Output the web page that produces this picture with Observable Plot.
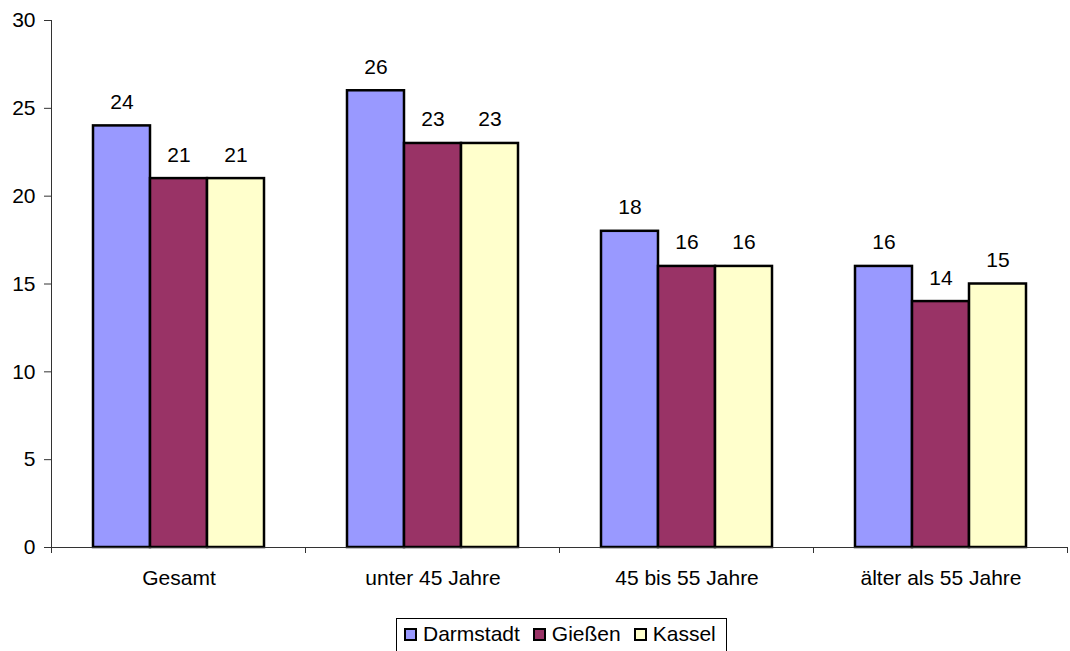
<!DOCTYPE html>
<html><head><meta charset="utf-8">
<script src="https://cdn.jsdelivr.net/npm/d3@7"></script>
<script src="https://cdn.jsdelivr.net/npm/@observablehq/plot@0.6"></script>
<style>
body{margin:0;background:#fff;font-family:"Liberation Sans",Arial,sans-serif;}
#wrap{position:relative;width:1070px;height:651px;overflow:hidden;}
#legend{position:absolute;left:396px;top:618px;width:331px;height:40px;border:1px solid #000;box-sizing:border-box;display:flex;align-items:flex-start;padding:4px 0 0 7px;font-size:21px;line-height:22px;color:#000;}
.item{display:flex;align-items:center;margin-right:13px;}
.sw{width:9px;height:9px;border:2px solid #000;margin-right:6px;}
</style></head>
<body><div id="wrap"><div id="chart"></div><div id="legend"></div></div>
<script>
const categories = ["Gesamt", "unter 45 Jahre", "45 bis 55 Jahre", "älter als 55 Jahre"];
const cities = ["Darmstadt", "Gießen", "Kassel"];
const darmstadt = [24, 26, 18, 16];
const giessen = [21, 23, 16, 14];
const kassel = [21, 23, 16, 15];
const colors = ["#9999FF", "#993366", "#FFFFCC"];
const yTicks = [0, 5, 10, 15, 20, 25, 30];

const series = [darmstadt, giessen, kassel];
const data = categories.flatMap((c, i) => series.map((s, k) => ({category: c, city: cities[k], value: s[i]})));

const W = 1070, H = 600, ML = 51, MR = 2, MT = 20, MB = 53;
const FS = 21;
const pInner = 0.3274;
const step = (W - ML - MR) / categories.length;
const bar = step * (1 - pInner) / 3;

const marks = [];
cities.forEach((city, k) => {
  const sub = data.filter(d => d.city === city);
  marks.push(Plot.barY(sub, {x: "category", y: "value", fill: "city", stroke: "black", strokeWidth: 2.5,
    insetLeft: k * bar, insetRight: (2 - k) * bar}));
  marks.push(Plot.text(sub, {x: "category", y: "value", text: d => String(d.value), dx: (k - 1) * bar, dy: -17,
    lineAnchor: "bottom", fontSize: FS, fill: "black"}));
});

const plot = Plot.plot({
  width: W, height: H, marginLeft: ML, marginRight: MR, marginTop: MT, marginBottom: MB,
  style: {fontFamily: "Liberation Sans, Arial, sans-serif", fontSize: FS + "px", color: "black", background: "white"},
  x: {domain: categories, paddingInner: pInner, paddingOuter: pInner / 2, label: null},
  y: {domain: [0, 30], label: null},
  color: {domain: cities, range: colors},
  marks: [
    Plot.axisY({ticks: yTicks, tickSize: 7, tickPadding: 9, fontSize: FS, stroke: "#333", label: null}),
    Plot.axisX({tickSize: 0, tickPadding: 23, fontSize: FS, label: null}),
    ...marks,
    Plot.frame({anchor: "left", stroke: "#333"}),
    Plot.ruleY([0], {stroke: "#333"})
  ]
});

document.getElementById("chart").appendChild(plot);

// boundary ticks on the category axis, from the band scale
const xs = plot.scale("x");
const ys = plot.scale("y");
const st = xs.step ?? step;
const bw = xs.bandwidth ?? step * (1 - pInner);
const bounds = categories.map(c => xs.apply(c) - (st - bw) / 2);
bounds.push(bounds[bounds.length - 1] + st);
const y0 = ys.apply(0);
d3.select(plot).append("g").selectAll("line").data(bounds).join("line")
  .attr("x1", d => d).attr("x2", d => d).attr("y1", y0).attr("y2", y0 + 6)
  .attr("stroke", "#333");

// legend
const lg = d3.select("#legend");
cities.forEach((c, k) => {
  const it = lg.append("div").attr("class", "item");
  it.append("div").attr("class", "sw").style("background", colors[k]);
  it.append("span").text(c);
});
</script></body></html>
